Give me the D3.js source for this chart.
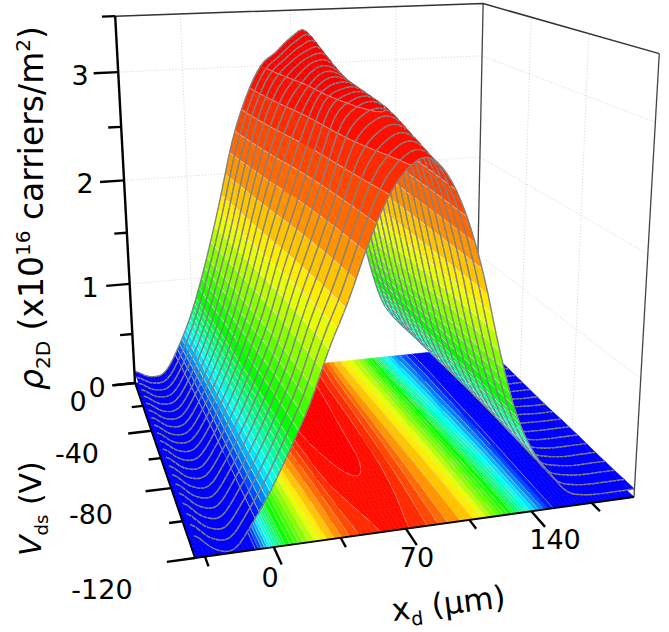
<!DOCTYPE html>
<html><head><meta charset="utf-8">
<script src="https://cdn.jsdelivr.net/npm/d3@7"></script>
<style>html,body{margin:0;padding:0;background:#fff}svg{display:block}text{font-family:"DejaVu Sans",sans-serif;fill:#000}</style>
</head><body><svg id="c" width="669" height="632"></svg>
<script>
const xPositions=[-40,-30,-20,-10,0,10,20,30,40,50,60,70,80,90,100,110,120,130,140,150,160,170,180,190,200];
const vdsRows=[0,-20,-40,-60,-80,-100,-120];
const rho0   =[.12,.05,.08,.33,.68,1.15,1.70,2.30,2.72,3.00,3.12,3.25,3.30,2.95,2.55,1.75,1.10,.62,.40,.28,.18,.12,.10,.10,.10];
const rho20  =[.14,.05,.07,.30,.62,1.05,1.55,2.12,2.60,2.92,3.08,3.18,3.20,2.92,2.50,1.78,1.12,.65,.42,.29,.18,.12,.10,.10,.10];
const rho40  =[.15,.05,.06,.28,.58,.95,1.42,1.95,2.42,2.78,3.00,3.12,3.08,2.92,2.50,1.82,1.17,.68,.44,.29,.17,.11,.09,.09,.09];
const rho60  =[.16,.05,.05,.26,.55,.90,1.30,1.78,2.20,2.60,2.95,3.05,3.05,2.90,2.50,1.86,1.22,.72,.46,.30,.16,.10,.09,.08,.08];
const rho80  =[.17,.05,.04,.25,.52,.84,1.20,1.65,2.05,2.45,2.85,3.00,3.02,2.88,2.48,1.90,1.27,.76,.48,.30,.15,.09,.08,.08,.08];
const rho100 =[.18,.05,.03,.24,.50,.80,1.14,1.56,1.93,2.33,2.70,2.88,2.93,2.80,2.45,1.93,1.30,.80,.49,.30,.14,.09,.07,.07,.07];
const rho120 =[.18,.05,.03,.23,.48,.78,1.10,1.50,1.85,2.25,2.58,2.78,2.85,2.72,2.42,1.95,1.33,.82,.50,.30,.13,.08,.07,.07,.07];
const rhoRows=[rho0,rho20,rho40,rho60,rho80,rho100,rho120];
const contourLevels=[.25,.3,.35,.4,.45,.5,.55,.6,.65,.7,.75,.8,.9,1,1.1,1.2,1.35,1.5,1.65,1.8,2,2.2,2.4,2.6,2.8,3,3.5];
const colorStops=[.25,.5,.85,1.65,2.15,2.4,2.7,3.0];
const colorValues=["#0000ff","#00ffff","#00ff00","#ffff00","#ff8800","#ff5500","#ff2a00","#ff0000"];
const floorShiftAt=[-10,25,45,94,112,140], floorShiftBy=[0,10,16,12,3,0];
const grayLineV=d3.range(0,-120.1,-6);
const rhoTicks=[0,1,2,3], rhoMinor=[.5,1.5,2.5,3.5];
const vdsMajor=[0,-40,-80,-120], vdsMinor=[-20,-60,-100];
const xMajor=[0,70,140], xMinor=[-35,35,105,175];

const uScale=d3.scaleLinear().domain([-40,200]).range([0,1]);
const vScale=d3.scaleLinear().domain([0,-120]).range([0,1]);
const color=d3.scaleLinear().domain(colorStops).range(colorValues).clamp(true);
const floorShift=d3.scaleLinear().domain(floorShiftAt).range(floorShiftBy).clamp(true);
const Q=[[135,383],[476,347.5],[634,497],[195,558]], VP=[381,4937], K=-0.0213, zTop=3.5;
const [[x0,y0],[x1,y1],[x2,y2],[x3,y3]]=Q;
const dx1=x1-x2,dx2=x3-x2,sx=x0-x1+x2-x3,dy1=y1-y2,dy2=y3-y2,sy=y0-y1+y2-y3,den=dx1*dy2-dx2*dy1;
const g=(sx*dy2-dx2*sy)/den,h=(dx1*sy-sx*dy1)/den;
const a=x1-x0+g*x1,b=x3-x0+h*x3,c=x0,d=y1-y0+g*y1,e=y3-y0+h*y3,f=y0;
function proj(x,V,z){const u=uScale(x),v=vScale(V),t=K*z,w=g*u+h*v+1+t;
 return [(a*u+b*v+c+VP[0]*t)/w,(d*u+e*v+f+VP[1]*t)/w];}
const m11=a-g*VP[0],m12=b-h*VP[0],m21=d-g*VP[1],m22=e-h*VP[1],r1=VP[0]-c,r2=VP[1]-f,dt=m11*m22-m12*m21;
const camX=uScale.invert((r1*m22-r2*m12)/dt);

const cr=(p0,p1,p2,p3,t)=>.5*((2*p1)+(-p0+p2)*t+(2*p0-5*p1+4*p2-p3)*t*t+(-p0+3*p1-3*p2+p3)*t*t*t);
function at(arr,pos,s0,s1){const n=arr.length-1;let q=(pos-s0)/(s1-s0)*n;q=Math.max(0,Math.min(n,q));
 const i=Math.min(n-1,Math.floor(q)),t=q-i;
 return cr(arr[Math.max(i-1,0)],arr[i],arr[i+1],arr[Math.min(i+2,n)],t);}
const fineX=d3.range(-40,200.1,2.5), fineV=grayLineV;
function rho(x,V){const col=rhoRows.map(r=>at(r,x,-40,200));return Math.max(0,at(col,V,0,-120));}
const grid=fineX.map(x=>fineV.map(V=>rho(x,V)));
const floorGrid=fineX.map(x=>fineV.map(V=>rho(x+floorShift(x),V)));

const rec=[];
const fmt=p=>p[0].toFixed(1)+","+p[1].toFixed(1);
const levels=[-1,...contourLevels,99];
function clip(poly,lv,keepAbove){const o=[];for(let i=0;i<poly.length;i++){const A=poly[i],B=poly[(i+1)%poly.length];
 const ia=keepAbove?A[2]>=lv:A[2]<=lv, ib=keepAbove?B[2]>=lv:B[2]<=lv;
 if(ia)o.push(A);
 if(ia!==ib){const t=(lv-A[2])/(B[2]-A[2]);o.push([A[0]+t*(B[0]-A[0]),A[1]+t*(B[1]-A[1]),lv]);}}return o;}
function drawTris(tris,lineCol,lineW,extra){
 const byBand=new Map(), segs=[];
 for(const T of tris){
  const mn=d3.min(T,p=>p[2]),mx=d3.max(T,p=>p[2]);
  for(let k=0;k<levels.length-1;k++){const lo=levels[k],hi=levels[k+1];
   if(hi<=mn||lo>=mx)continue;
   let P=clip(T,lo,true);if(P.length<3)continue;P=clip(P,hi,false);if(P.length<3)continue;
   byBand.set(k,(byBand.get(k)||"")+"M"+P.map(fmt).join("L")+"Z");}
  for(const lv of contourLevels){ if(lv<=mn||lv>=mx)continue; const pts=[];
   for(let i=0;i<3;i++){const A=T[i],B=T[(i+1)%3];if((A[2]-lv)*(B[2]-lv)<0){const t=(lv-A[2])/(B[2]-A[2]);pts.push([A[0]+t*(B[0]-A[0]),A[1]+t*(B[1]-A[1])]);}}
   if(pts.length==2)segs.push("M"+fmt(pts[0])+"L"+fmt(pts[1]));}
 }
 for(const [k,dd] of byBand){const lo=Math.max(levels[k],.1),hi=Math.min(levels[k+1],3.3);const cl=color((lo+hi)/2);
  rec.push({d:dd,fill:cl,stroke:cl,sw:.5});}
 if(segs.length)rec.push({d:segs.join(""),fill:"none",stroke:lineCol,sw:lineW});
 if(extra)rec.push(...extra);
}
const svg=d3.select("#c");
svg.append("defs").append("clipPath").attr("id","topclip").append("rect").attr("x",0).attr("y",0).attr("width",669).attr("height",340);
const walls=svg.append("g").attr("fill","none").attr("stroke","#cfcfcf").attr("stroke-width",.8).attr("stroke-dasharray","1.2 1.8");
const L=d3.line();
const wallPaths=[];
for(const z of [1,2,3]){wallPaths.push([proj(-40,0,z),proj(200,0,z),proj(200,-120,z)]);}
for(const x of xMajor){wallPaths.push([proj(x,0,0),proj(x,0,zTop)]);}
for(const V of [-40,-80]){wallPaths.push([proj(200,V,0),proj(200,V,zTop)]);}
walls.selectAll("path").data(wallPaths).join("path").attr("d",L);
const box=svg.append("g").attr("fill","none");
box.append("path").attr("d",L([proj(-40,0,zTop),proj(200,0,zTop),proj(200,-120,zTop)])).attr("stroke","#333").attr("stroke-width",1.5);
box.append("path").attr("d",L([proj(200,-120,0),proj(200,-120,zTop)])).attr("stroke","#444").attr("stroke-width",1.3);
box.append("path").attr("d",L([proj(200,0,0),proj(200,0,zTop)])).attr("stroke","#444").attr("stroke-width",1.3).attr("clip-path","url(#topclip)");

for(let j=0;j<fineV.length-1;j++)for(let i=0;i<fineX.length-1;i++){
 const P=(a,b)=>{const s=proj(fineX[a],fineV[b],0);return [s[0],s[1],floorGrid[a][b]];};
 drawTris([[P(i,j),P(i+1,j),P(i+1,j+1)],[P(i,j),P(i+1,j+1),P(i,j+1)]],"#e8dcc0",.5);
}
const order=[];const nC=fineX.length-1;
const left=d3.range(nC).filter(i=>fineX[i]+1.25<camX), right=d3.range(nC).filter(i=>fineX[i]+1.25>=camX).reverse();
order.push(...left,...right);
for(let j=0;j<fineV.length-1;j++)for(const i of order){
 const P=(a,b)=>{const s=proj(fineX[a],fineV[b],grid[a][b]);return [s[0],s[1],grid[a][b]];};
 const A=P(i,j),B=P(i+1,j),C=P(i+1,j+1),D=P(i,j+1);
 const diag=Math.abs(A[2]-C[2])<Math.abs(B[2]-D[2]);
 const tris=diag?[[A,B,C],[A,C,D]]:[[A,B,D],[B,C,D]];
 const gray="M"+fmt(A)+"L"+fmt(B)+"M"+fmt(D)+"L"+fmt(C);
 drawTris(tris,"#fff8e8",.6,[{d:gray,fill:"none",stroke:"#828282",sw:1.4}]);
}
svg.append("g").selectAll("path").data(rec).join("path")
 .attr("d",r=>r.d).attr("fill",r=>r.fill).attr("stroke",r=>r.stroke).attr("stroke-width",r=>r.sw).attr("stroke-linejoin","round");

const ax=svg.append("g").attr("fill","none").attr("stroke","#000").attr("stroke-width",2.4);
ax.append("path").attr("d",L([proj(-40,0,0),proj(-40,0,zTop)]));
ax.append("path").attr("d",L([proj(-40,0,0),proj(-40,-120,0)])).attr("stroke-width",1.8);
ax.append("path").attr("d",L([proj(-40,-120,0),proj(200,-120,0)])).attr("stroke-width",1.8);
const tickLines=[];
for(const z of rhoTicks)tickLines.push([proj(-40,0,z),proj(-55,0,z)]);
for(const z of rhoMinor)tickLines.push([proj(-40,0,z),proj(-48,0,z)]);
for(const V of vdsMajor)tickLines.push([proj(-40,V,0),proj(-54,V,0)]);
for(const V of vdsMinor)tickLines.push([proj(-40,V,0),proj(-47,V,0)]);
for(const x of xMajor)tickLines.push([proj(x,-120,0),proj(x,-129,0)]);
for(const x of xMinor)tickLines.push([proj(x,-120,0),proj(x,-125,0)]);
ax.selectAll("path.t").data(tickLines).join("path").attr("class","t").attr("d",L);

const fs=27;
const lab=(x,y,t)=>svg.append("text").attr("x",x).attr("y",y).attr("font-size",fs).attr("text-anchor","middle").attr("dominant-baseline","central").text(t);
[[80,75,3],[85,183,2],[90,287,1],[97,387,0]].forEach(p=>lab(p[0],p[1],rhoTicks[p[2]]));
vdsMajor.forEach((V,i)=>{const P=[[78,401],[77,453],[91,514],[102,589]][i];lab(P[0],P[1],V===0?"0":String(V));});
xMajor.forEach((x,i)=>{const P=[[270,577],[417,557],[555,539]][i];lab(P[0],P[1],x);});

const t1=svg.append("text").attr("transform","translate(43,390) rotate(-90)").attr("font-size",33);
t1.append("tspan").attr("font-style","italic").text("ρ");
t1.append("tspan").attr("font-size",20).attr("dy",7).text("2D");
t1.append("tspan").attr("dy",-7).text(" (x10");
t1.append("tspan").attr("font-size",20).attr("dy",-13).text("16");
t1.append("tspan").attr("dy",13).text(" carriers/m");
t1.append("tspan").attr("font-size",20).attr("dy",-13).text("2");
t1.append("tspan").attr("dy",13).text(")");
const t2=svg.append("text").attr("transform","translate(41,556) rotate(-90)").attr("font-size",30);
t2.append("tspan").attr("font-style","italic").text("V");
t2.append("tspan").attr("font-size",18).attr("dy",7).text("ds");
t2.append("tspan").attr("dy",-7).text(" (V)");
const t3=svg.append("text").attr("transform","translate(393,621) rotate(-7)").attr("font-size",31);
t3.append("tspan").text("x");
t3.append("tspan").attr("font-size",19).attr("dy",7).text("d");
t3.append("tspan").attr("dy",-7).text(" (μm)");
</script></body></html>
